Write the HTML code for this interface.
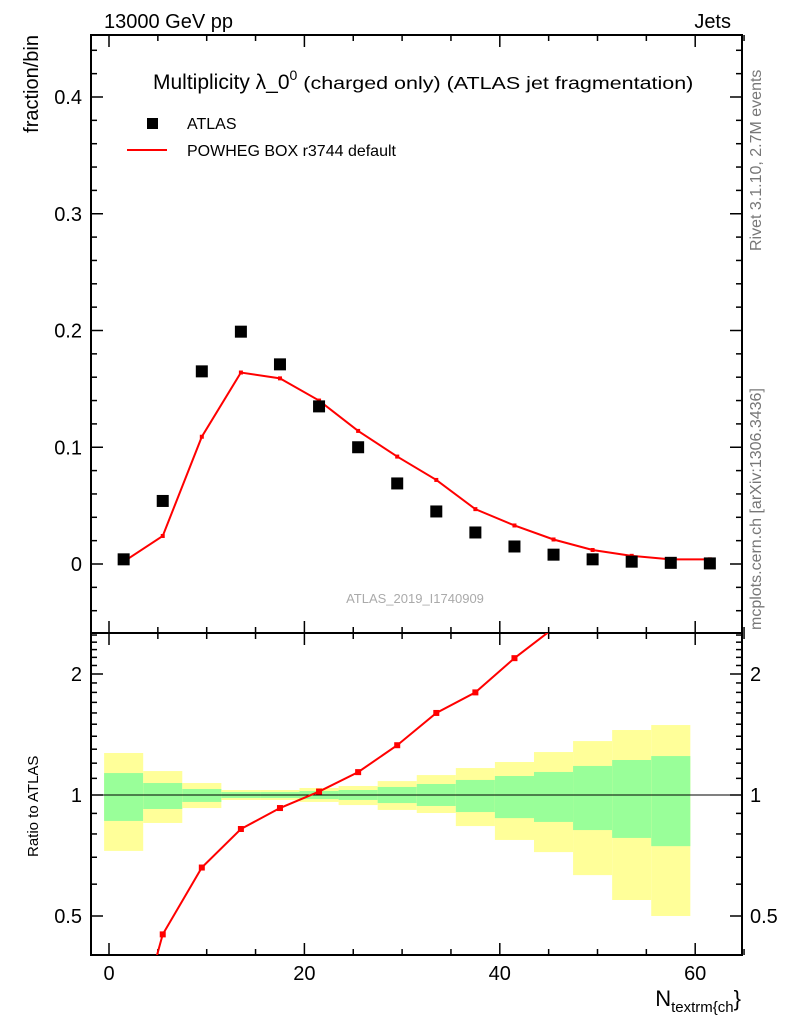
<!DOCTYPE html>
<html><head><meta charset="utf-8"><style>
html,body{margin:0;padding:0;background:#fff;width:786px;height:1024px;overflow:hidden}
svg{display:block;font-family:"Liberation Sans",sans-serif}
</style></head><body>
<svg id="c" width="786" height="1024" viewBox="0 0 786 1024">
<g id="bands"></g>
<g id="axes"></g>
<g id="marks"></g>
<text x="104" y="28" font-size="20">13000 GeV pp</text>
<text x="731" y="28" font-size="20" text-anchor="end">Jets</text>
<text x="153" y="89" font-size="21">Multiplicity λ_0<tspan dy="-9" font-size="14">0</tspan><tspan dy="9" font-size="17.5" textLength="396" lengthAdjust="spacingAndGlyphs"> (charged only) (ATLAS jet fragmentation)</tspan></text>
<rect x="147" y="118" width="11" height="11" fill="#000"/>
<text x="187" y="129" font-size="16">ATLAS</text>
<line x1="127" y1="150" x2="167" y2="150" stroke="#f00" stroke-width="2"/>
<text x="187" y="156" font-size="16">POWHEG BOX r3744 default</text>
<text x="415" y="603" font-size="13" fill="#aaa" text-anchor="middle">ATLAS_2019_I1740909</text>
<text transform="translate(38,35) rotate(-90)" font-size="20" text-anchor="end">fraction/bin</text>
<text transform="translate(38,857) rotate(-90)" font-size="15">Ratio to ATLAS</text>
<text x="741" y="1006" font-size="22" text-anchor="end">N<tspan font-size="15" dy="6">textrm{ch</tspan><tspan dy="-6">}</tspan></text>
<text transform="translate(761,251) rotate(-90)" font-size="16" fill="#777">Rivet 3.1.10,  2.7M events</text>
<text transform="translate(761,630) rotate(-90)" font-size="16" fill="#777">mcplots.cern.ch [arXiv:1306.3436]</text>
</svg>
<script>
const xCenters=[1.5,5.5,9.5,13.5,17.5,21.5,25.5,29.5,33.5,37.5,41.5,45.5,49.5,53.5,57.5,61.5];
const atlasVals=[0.004,0.054,0.165,0.199,0.171,0.135,0.100,0.069,0.045,0.027,0.015,0.008,0.004,0.002,0.001,0.0005];
const powhegVals=[0.002,0.024,0.109,0.164,0.159,0.140,0.114,0.092,0.072,0.047,0.033,0.021,0.012,0.007,0.004,0.004];
const ratioVals=[0.2,0.45,0.66,0.823,0.928,1.02,1.14,1.33,1.6,1.8,2.19,2.6,3.0,3.5,4.0,4.5];
const binLo=[-0.5,3.5,7.5,11.5,15.5,19.5,23.5,27.5,31.5,35.5,39.5,43.5,47.5,51.5,55.5];
const binHi=[3.5,7.5,11.5,15.5,19.5,23.5,27.5,31.5,35.5,39.5,43.5,47.5,51.5,55.5,59.5];
const yelUp=[1.272,1.147,1.071,1.029,1.029,1.041,1.053,1.083,1.121,1.167,1.208,1.279,1.362,1.451,1.493];
const yelDn=[0.726,0.852,0.928,0.972,0.972,0.961,0.944,0.918,0.902,0.837,0.773,0.721,0.632,0.548,0.5];
const grnUp=[1.134,1.071,1.035,1.017,1.017,1.023,1.029,1.047,1.065,1.09,1.115,1.141,1.181,1.222,1.25];
const grnDn=[0.862,0.923,0.961,0.983,0.983,0.977,0.972,0.955,0.939,0.907,0.876,0.857,0.818,0.782,0.746];
const xTicks=[0,20,40,60];
const yTicks=[0,0.1,0.2,0.3,0.4];
const rTicks=[0.5,1,2];

const L=91,R=742,T1=35,B1=633,B2=955;
const X=v=>109+v*9.77;
const Y=v=>564-v*1167.5;
const RY=v=>795-Math.log2(v)*121;
const NS="http://www.w3.org/2000/svg";
function mk(p,tag,at){const e=document.createElementNS(NS,tag);for(const k in at)e.setAttribute(k,at[k]);document.getElementById(p).appendChild(e);return e;}

for(let i=0;i<binLo.length;i++){
  const y=mk('bands','rect',{x:X(binLo[i]),y:RY(yelUp[i]),width:X(binHi[i])-X(binLo[i]),height:RY(yelDn[i])-RY(yelUp[i]),fill:'#ffff99'});
  
  
  const g=mk('bands','rect',{x:X(binLo[i]),y:RY(grnUp[i]),width:X(binHi[i])-X(binLo[i]),height:RY(grnDn[i])-RY(grnUp[i]),fill:'#99ff99'});
  
  
}
let f=mk('axes','rect',{x:L,y:T1,width:R-L,height:B1-T1,fill:'none',stroke:'#000','stroke-width':2});


f=mk('axes','rect',{x:L,y:B1,width:R-L,height:B2-B1,fill:'none',stroke:'#000','stroke-width':2});


let ul=mk('axes','line',{x1:L,x2:R,y1:RY(1),y2:RY(1),stroke:'#000','stroke-width':1});


for(let v=0;v<=65;v+=5){
  const len=(v%20===0)?12:6;const x=X(v);
  for(const [y0,d] of [[T1,1],[B1,-1],[B1,1],[B2,-1]]){
    const t=mk('axes','line',{x1:x,x2:x,y1:y0,y2:y0+d*len,stroke:'#000','stroke-width':1.5});
    
    
  }
}
xTicks.forEach(v=>{const t=mk('axes','text',{x:X(v),y:980,'font-size':20,'text-anchor':'middle'});t.textContent=v;

});
for(let i=-2;i<=22;i++){const v=i*0.02;const y=Y(v);if(y<T1||y>B1)continue;const len=(i%5===0)?12:6;
  for(const [x0,d] of [[L,1],[R,-1]]){const t=mk('axes','line',{x1:x0,x2:x0+d*len,y1:y,y2:y,stroke:'#000','stroke-width':1.5});
  
  }}
yTicks.forEach(v=>{const t=mk('axes','text',{x:82,y:Y(v)+7,'font-size':20,'text-anchor':'end'});t.textContent=v===0?'0':v.toFixed(1);

});
[0.4,0.5,0.6,0.7,0.8,0.9,1,1.1,1.2,1.3,1.4,1.5,1.6,1.7,1.8,1.9,2,2.1,2.2,2.3,2.4,2.5].forEach(v=>{
  const y=RY(v);if(y<B1||y>B2)return;const len=rTicks.includes(v)?12:6;
  for(const [x0,d] of [[L,1],[R,-1]]){const t=mk('axes','line',{x1:x0,x2:x0+d*len,y1:y,y2:y,stroke:'#000','stroke-width':1.5});
  
  }});
rTicks.forEach(v=>{for(const [x,a] of [[82,'end'],[750,'start']]){const t=mk('axes','text',{x:x,y:RY(v)+7,'font-size':20,'text-anchor':a});t.textContent=v;

}});
const pl=mk('marks','polyline',{points:xCenters.map((x,i)=>X(x)+','+Y(powhegVals[i])).join(' '),fill:'none',stroke:'#f00','stroke-width':2});


xCenters.forEach((x,i)=>{const r=mk('marks','rect',{x:X(x)-2,y:Y(powhegVals[i])-2,width:4,height:4,fill:'#f00'});


const s=mk('marks','rect',{x:X(x)-6,y:Y(atlasVals[i])-6,width:12,height:12,fill:'#000'});

});
mk('marks','clipPath',{id:'rc'});mk('rc','rect',{x:L,y:B1,width:R-L,height:B2-B1});
const rl=mk('marks','polyline',{points:xCenters.map((x,i)=>X(x)+','+RY(ratioVals[i])).join(' '),fill:'none',stroke:'#f00','stroke-width':2,'clip-path':'url(#rc)'});


xCenters.forEach((x,i)=>{const y=RY(ratioVals[i]);if(y<B1||y>B2)return;
const m=mk('marks','rect',{x:X(x)-3,y:y-3,width:6,height:6,fill:'#f00'});

});
</script>
</body></html>
